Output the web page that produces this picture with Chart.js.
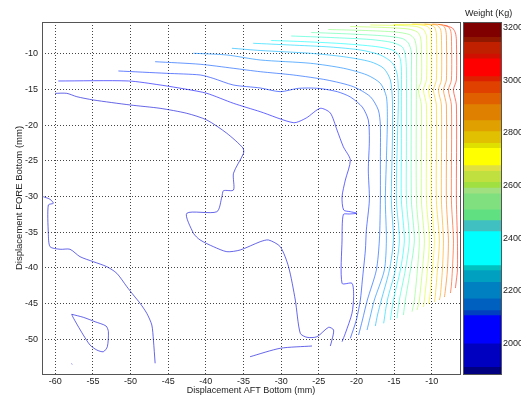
<!DOCTYPE html>
<html>
<head>
<meta charset="utf-8">
<script src="https://cdn.jsdelivr.net/npm/chart.js@4.4.0/dist/chart.umd.min.js"></script>
<style>
  html, body { margin: 0; padding: 0; background: #fff; }
  #wrap { position: relative; width: 521px; height: 396px; overflow: hidden; }
  canvas { position: absolute; left: 0; top: 0; }
  #cbTitle { position: absolute; left: 465px; top: 8px; font: 9px "Liberation Sans", Arial, sans-serif; line-height: 11px; color: #222; white-space: nowrap; }
</style>
</head>
<body>
<div id="wrap">
  <canvas id="plot" width="521" height="396"></canvas>
  <canvas id="cbar" width="521" height="396"></canvas>
  <div id="cbTitle">Weight (Kg)</div>
</div>
<script>
// axes
const xTicks = [-60, -55, -50, -45, -40, -35, -30, -25, -20, -15, -10];
const yTicks = [-10, -15, -20, -25, -30, -35, -40, -45, -50];
const xRange = [-61.77, -6.24];
const yRange = [-54.86, -5.56];

// colour bar
const weightRange = [1883.3, 3221.7];
const weightTicks = [2000, 2200, 2400, 2600, 2800, 3000, 3200];
const bandEdges = [3220.5, 3165.8, 3146.8, 3102.7, 3083.7, 3016.4, 2997.4, 2952.9, 2909.9, 2849.1,
  2807.3, 2762.8, 2743.8, 2678, 2656.3, 2614.5, 2593.2, 2570.4, 2509.6, 2468.9,
  2427.1, 2297.8, 2278.8, 2234.3, 2171.2, 2126.7, 2107.7, 2000.1, 1911.1, 1883.4];
const bandColors = ["#800000", "#901800", "#c02000", "#d01000", "#ff0000", "#dc2000", "#e04000", "#e06000", "#e08000",
  "#e0a000", "#e0c000", "#e0e000", "#ffff00", "#e0e040", "#c0e040", "#a0e040", "#a0e080", "#80e080",
  "#60e080", "#40c0c0", "#00ffff", "#00c0c0", "#00a0c0", "#0080c0", "#0060c0", "#0040c0", "#0000ff",
  "#0000c0", "#000080"];

// contour lines (x, y) in mm
const lineA = [[-60.04,-15.55],[-58.48,-15.55],[-57.15,-16.02],[-54.95,-16.48],[-50.07,-17.18],[-46.08,-17.65],[-42.53,-18.35],[-39.87,-19.29],[-37.21,-21.15],[-35.08,-23.2],[-35.0,-23.95],[-36.33,-26.75],[-36.33,-29.09],[-37.66,-29.19],[-37.87,-30.03],[-38.54,-32.13],[-42.53,-32.35],[-41.65,-35.15],[-40.76,-36.09],[-38.99,-37.03],[-37.21,-37.73],[-35.44,-37.49],[-32.78,-36.33],[-31.68,-36.09],[-30.12,-37.03],[-29.02,-39.83],[-28.12,-44.5],[-27.46,-49.16],[-26.57,-49.72],[-25.24,-49.64],[-23.70,-48.32],[-23.03,-48.70],[-23.25,-50.1],[-23.47,-50.94]];
const lineB = [[-61.6,-30.03],[-60.7,-30.39],[-60.27,-30.95],[-60.93,-31.19],[-60.93,-35.11],[-60.7,-37.03],[-59.37,-37.39],[-58.05,-37.39],[-56.72,-38.43],[-54.95,-39.13],[-53.16,-39.83],[-51.83,-40.76],[-50.5,-42.63],[-49.63,-43.8],[-48.74,-44.96],[-47.85,-46.36],[-47.18,-48.0],[-46.97,-50.1],[-46.74,-53.36]];
const loopC = [[-57.82,-46.5],[-56.28,-46.92],[-54.72,-47.54],[-53.26,-48.14],[-52.95,-48.94],[-53.09,-51.04],[-53.62,-51.74],[-54.49,-51.5],[-55.39,-50.8],[-56.28,-49.4],[-57.07,-48.0],[-57.69,-46.83],[-57.82,-46.5]];
const dotD = [[-57.86,-53.42],[-57.74,-53.5]];
const lineE = [[-34.13,-52.44],[-30.12,-51.26],[-25.9,-50.94]];
const w2050 = [[-59.6,-13.82],[-50.29,-13.82],[-46.08,-14.38],[-42.53,-14.99],[-39.87,-15.55],[-36.33,-16.95],[-32.78,-18.12],[-28.35,-19.66],[-26.66,-19.0],[-24.8,-17.65],[-23.47,-18.3],[-22.58,-20.69],[-21.74,-23.03],[-20.81,-24.89],[-21.47,-27.69],[-21.91,-30.03],[-21.70,-31.89],[-20.81,-32.13],[-19.92,-32.35],[-20.94,-32.45],[-21.74,-32.52],[-21.91,-36.1],[-21.91,-42.16],[-20.59,-42.16],[-20.37,-44.03],[-20.59,-46.36],[-21.47,-49.16],[-21.91,-50.34]];
const w2110 = [[-51.62,-12.42],[-45.19,-12.75],[-40.76,-12.98],[-39.03,-13.45],[-36.37,-14.38],[-32.78,-14.8],[-30.12,-15.32],[-27.73,-14.85],[-25.07,-14.85],[-22.54,-15.32],[-20.81,-16.06],[-19.22,-17.47],[-18.42,-19.29],[-18.28,-22.09],[-18.42,-26.29],[-18.28,-30.5],[-18.68,-34.7],[-18.81,-37.5],[-19.21,-41.7],[-19.48,-44.5],[-20.01,-47.3],[-20.81,-49.86]];
const w2160 = [[-46.74,-11.12],[-40.76,-11.48],[-36.37,-12.04],[-32.78,-12.52],[-28.39,-12.98],[-23.91,-13.68],[-20.41,-14.62],[-18.15,-16.02],[-17.09,-17.89],[-16.82,-19.99],[-16.82,-24.89],[-16.82,-30.5],[-16.95,-36.1],[-17.35,-40.3],[-18.55,-44.5],[-19.2,-47.3],[-19.71,-49.4]];
const w2220 = [[-41.65,-9.94],[-37.21,-10.18],[-32.78,-10.88],[-26.13,-11.34],[-21.7,-12.04],[-18.59,-12.98],[-16.82,-14.15],[-16.02,-16.02],[-15.89,-19.29],[-16.02,-24.89],[-16.16,-30.5],[-16.02,-36.1],[-16.29,-40.3],[-17.62,-44.5],[-18.2,-47.0],[-18.59,-48.7]];
const w2280 = [[-36.54,-9.24],[-32.78,-9.55],[-26.13,-9.94],[-21.7,-10.42],[-18.15,-11.12],[-16.38,-12.04],[-15.49,-13.68],[-15.22,-16.48],[-15.22,-22.09],[-15.36,-30.5],[-15.09,-36.1],[-15.62,-40.3],[-16.69,-44.5],[-17.2,-46.6],[-17.49,-48.14]];
const w2330 = [[-33.71,-8.54],[-28.79,-8.78],[-23.47,-9.06],[-19.48,-9.48],[-16.82,-10.18],[-15.22,-11.3],[-14.56,-12.98],[-14.43,-16.48],[-14.56,-22.09],[-14.69,-30.5],[-14.29,-36.1],[-14.83,-40.3],[-15.89,-44.5],[-16.38,-47.76]];
const w2390 = [[-31.32,-8.15],[-27.46,-8.29],[-22.14,-8.57],[-17.49,-8.99],[-15.23,-9.48],[-14.3,-10.32],[-14.03,-12.0],[-14.03,-16.48],[-14.03,-23.49],[-14.03,-30.5],[-13.63,-36.1],[-14.16,-40.3],[-15.09,-44.5],[-15.49,-47.3]];
const w2450 = [[-28.66,-7.52],[-23.47,-7.73],[-18.15,-8.01],[-15.23,-8.43],[-13.9,-9.06],[-13.5,-10.18],[-13.36,-12.28],[-13.36,-23.49],[-13.36,-30.5],[-12.97,-36.1],[-13.5,-40.3],[-14.3,-44.5],[-14.6,-47.06]];
const w2500 = [[-26.0,-7.03],[-20.81,-7.24],[-16.16,-7.52],[-13.9,-7.87],[-13.1,-8.5],[-12.7,-9.76],[-12.7,-12.28],[-12.7,-30.5],[-12.3,-36.1],[-12.83,-40.3],[-13.5,-44.5],[-13.76,-46.6]];
const w2560 = [[-23.74,-6.61],[-18.82,-6.75],[-14.83,-6.96],[-12.97,-7.31],[-12.3,-7.94],[-12.03,-9.2],[-12.03,-12.28],[-12.03,-30.5],[-11.64,-36.1],[-11.9,-40.3],[-12.3,-44.5],[-12.61,-46.13]];
const w2620 = [[-20.81,-6.19],[-16.16,-6.33],[-13.1,-6.54],[-11.9,-6.96],[-11.5,-7.66],[-11.37,-8.92],[-11.37,-13.68],[-11.77,-15.08],[-11.37,-17.18],[-11.37,-30.5],[-10.97,-36.1],[-11.24,-40.3],[-11.64,-44.5],[-11.94,-45.9]];
const w2670 = [[-18.15,-5.98],[-14.16,-6.05],[-12.03,-6.19],[-11.1,-6.61],[-10.7,-7.52],[-10.7,-13.68],[-11.1,-15.08],[-10.7,-17.18],[-10.7,-30.5],[-10.31,-36.1],[-10.57,-40.3],[-10.97,-44.5],[-11.1,-45.48]];
const w2730 = [[-15.09,-5.91],[-12.17,-5.91],[-10.7,-6.12],[-10.17,-6.68],[-10.04,-8.08],[-10.04,-13.68],[-10.44,-15.08],[-10.04,-17.18],[-10.04,-30.5],[-9.64,-36.1],[-9.91,-40.3],[-10.31,-44.5],[-10.44,-45.06]];
const w2790 = [[-12.57,-5.84],[-10.44,-5.91],[-9.64,-6.26],[-9.38,-7.24],[-9.38,-13.68],[-9.77,-15.08],[-9.38,-17.18],[-9.38,-30.5],[-8.98,-36.1],[-9.24,-40.3],[-9.51,-43.8],[-9.64,-44.78]];
const w2840 = [[-10.97,-5.84],[-9.38,-5.98],[-8.84,-6.54],[-8.71,-7.52],[-8.71,-13.68],[-9.11,-15.08],[-8.71,-17.18],[-8.71,-30.5],[-8.44,-36.1],[-8.58,-40.3],[-8.84,-43.8],[-8.98,-44.5]];
const w2900 = [[-9.91,-5.84],[-8.58,-5.98],[-8.18,-6.54],[-8.05,-7.52],[-8.05,-13.68],[-8.44,-15.08],[-8.05,-17.18],[-8.05,-30.5],[-7.78,-36.1],[-7.91,-40.3],[-8.18,-43.1],[-8.31,-44.08]];
const w2960 = [[-9.11,-5.91],[-7.91,-6.12],[-7.51,-6.68],[-7.38,-7.66],[-7.38,-13.68],[-7.78,-15.08],[-7.38,-17.18],[-7.38,-30.5],[-7.11,-36.1],[-7.25,-40.3],[-7.38,-42.4],[-7.51,-43.52]];
const w3010 = [[-8.31,-6.05],[-7.25,-6.4],[-6.85,-7.1],[-6.72,-8.08],[-6.72,-13.68],[-7.11,-15.08],[-6.72,-17.18],[-6.72,-30.5],[-6.58,-36.1],[-6.58,-40.3],[-6.72,-41.7],[-6.85,-42.82]];

// level of each line
const contours = [
  [2000, lineA], [2000, lineB], [2000, loopC], [2000, dotD], [2000, lineE],
  [2050, w2050], [2110, w2110], [2160, w2160], [2220, w2220], [2280, w2280], [2330, w2330],
  [2390, w2390], [2450, w2450], [2500, w2500], [2560, w2560], [2620, w2620], [2670, w2670],
  [2730, w2730], [2790, w2790], [2840, w2840], [2900, w2900], [2960, w2960], [3010, w3010]
];

const font = { family: "'Liberation Sans', Arial, sans-serif", size: 9 };
const textColor = "#222";

// matlab jet, a bit washed out like the thin lines in the picture
function jet(v) {
  const t = (v - weightRange[0]) / (weightRange[1] - weightRange[0]);
  const f = (c) => Math.round(255 * Math.max(0, Math.min(1, 1.5 - Math.abs(4 * t - c))));
  return "rgba(" + f(3) + "," + f(2) + "," + f(1) + ",0.6)";
}

const frame = {
  id: "frame",
  afterDraw(chart) {
    const { ctx, chartArea: a } = chart;
    ctx.save();
    ctx.strokeStyle = "#555";
    ctx.lineWidth = 1;
    ctx.strokeRect(Math.round(a.left) + 0.5, Math.round(a.top) + 0.5, Math.round(a.width), Math.round(a.height));
    ctx.restore();
  }
};

new Chart(document.getElementById("plot"), {
  type: "scatter",
  data: {
    datasets: contours.map(([lvl, pts]) => ({
      data: pts.map(([x, y]) => ({ x, y })),
      showLine: true,
      borderColor: jet(lvl),
      borderWidth: 1,
      pointRadius: 0,
      tension: 0.25,
      fill: false
    }))
  },
  options: {
    responsive: false,
    animation: false,
    events: [],
    layout: { padding: { left: 0, top: 22, right: 61, bottom: 0 } },
    plugins: { legend: { display: false }, tooltip: { enabled: false } },
    scales: {
      x: {
        type: "linear",
        min: xRange[0],
        max: xRange[1],
        afterBuildTicks: (s) => { s.ticks = xTicks.map((v) => ({ value: v })); },
        afterFit: (s) => { s.height = 22; },
        ticks: { font, color: textColor, padding: 2, maxRotation: 0, callback: (v) => String(v) },
        grid: { color: "#444", drawTicks: false },
        border: { display: false, dash: [1, 2] },
        title: { display: true, text: "Displacement AFT Bottom (mm)", font, color: textColor, padding: { top: 0, bottom: 0 } }
      },
      y: {
        type: "linear",
        min: yRange[0],
        max: yRange[1],
        afterBuildTicks: (s) => { s.ticks = yTicks.map((v) => ({ value: v })); },
        afterFit: (s) => { s.width = 42; },
        ticks: { font, color: textColor, padding: 4, callback: (v) => String(v) },
        grid: { color: "#444", drawTicks: false },
        border: { display: false, dash: [1, 2] },
        title: { display: true, text: "Displacement FORE Bottom (mm)", font: { ...font, size: 9.5 }, color: textColor, padding: { top: 14, bottom: 0 } }
      }
    }
  },
  plugins: [frame]
});

new Chart(document.getElementById("cbar"), {
  type: "bar",
  data: {
    labels: [""],
    datasets: bandColors.map((c, i) => ({
      data: [[bandEdges[i + 1], bandEdges[i]]],
      backgroundColor: c,
      borderWidth: 0,
      grouped: false,
      barPercentage: 1,
      categoryPercentage: 1
    }))
  },
  options: {
    responsive: false,
    animation: false,
    events: [],
    layout: { padding: { left: 463, top: 22, right: 0, bottom: 22 } },
    plugins: { legend: { display: false }, tooltip: { enabled: false } },
    scales: {
      x: { display: false },
      y: {
        position: "right",
        min: weightRange[0],
        max: weightRange[1],
        afterBuildTicks: (s) => { s.ticks = weightTicks.map((v) => ({ value: v })); },
        afterFit: (s) => { s.width = 20; },
        ticks: { font, color: textColor, padding: 2, callback: (v) => String(v) },
        grid: { display: false, drawTicks: false },
        border: { display: false }
      }
    }
  },
  plugins: [frame]
});
</script>
</body>
</html>
